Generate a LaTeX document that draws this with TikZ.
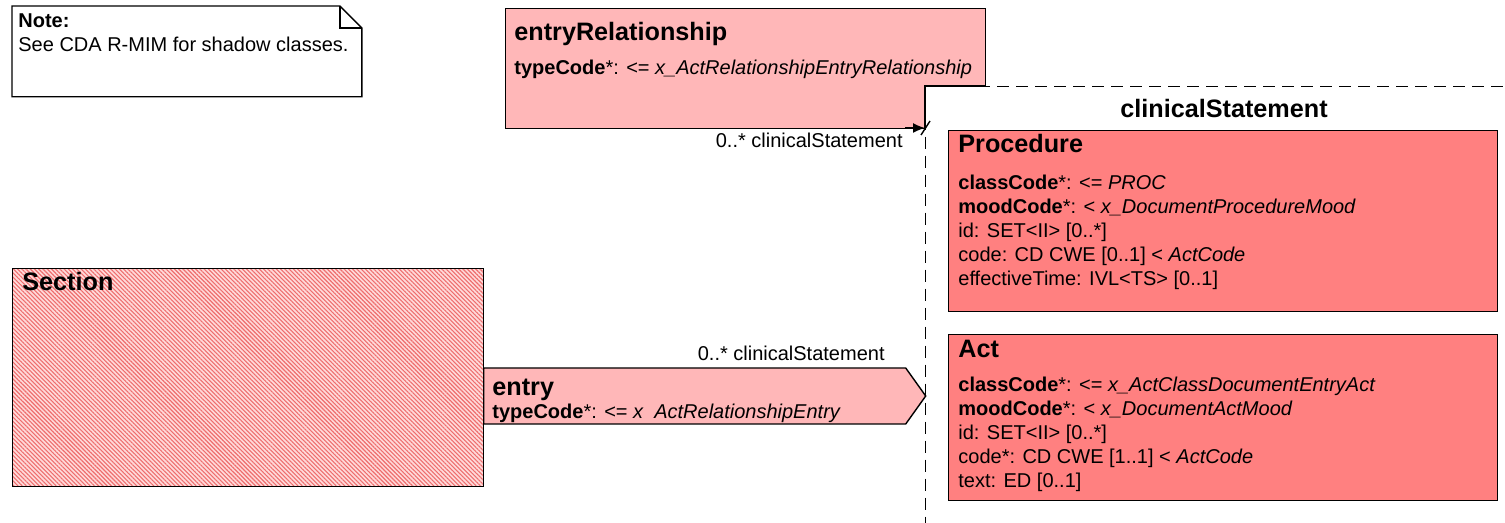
\documentclass[tikz,border=0pt]{standalone}
\usepackage{fontspec}
\setmainfont{Liberation Sans}
\usetikzlibrary{arrows.meta,patterns.meta,shapes.symbols}
\definecolor{relpink}{RGB}{255,183,184}
\definecolor{actred}{RGB}{255,128,128}
\definecolor{hatchred}{RGB}{238,110,110}
\definecolor{hatchbg}{RGB}{255,218,218}
\newcommand{\ttlfont}{\fontsize{12.6}{15}\selectfont\bfseries}
\newcommand{\attfont}{\fontsize{10}{12}\selectfont}
\tikzset{
  classbox/.style={draw, line width=0.7pt, anchor=north west, inner sep=0pt},
  ttl/.style={anchor=base west, inner sep=0pt, font=\ttlfont},
  attrs/.style={anchor=north west, inner sep=0pt, align=left, font=\attfont},
  attline/.style={anchor=base west, inner sep=0pt, font=\attfont},
  rolelbl/.style={anchor=base east, inner sep=0pt, font=\attfont},
  assoc/.style={-{Latex[length=6pt,width=5pt]}, line width=0.7pt},
}
\begin{document}
\begin{tikzpicture}[x=0.5pt,y=-0.5pt]
\useasboundingbox (0,0) rectangle (1505,523);

% note
\node[anchor=north west, inner sep=0pt, minimum width=174.5pt, minimum height=45pt] (note) at (12,6) {};
\draw[line width=0.7pt, fill=white] (note.north west) -- ([xshift=-11pt]note.north east) -- ([yshift=-11pt]note.north east) -- (note.south east) -- (note.south west) -- cycle;
\draw[line width=0.7pt] ([xshift=-11pt]note.north east) |- ([yshift=-11pt]note.north east);
\node[attrs] (notetxt) at (18,13) {\textbf{Note:}\\See CDA R-MIM for shadow classes.};

% entryRelationship
\node[classbox, fill=relpink, minimum width=240pt, minimum height=60pt] (er) at (505,8) {};
\node[ttl] (ertitle) at (514,41) {entryRelationship};
\node[attline] (erattr) at (514,75) {\textbf{typeCode}*: <= \textit{x\_ActRelationshipEntryRelationship}};

% clinicalStatement choice
\node[classbox, fill=white, dashed, dash pattern=on 6pt off 3.5pt, minimum width=300pt, minimum height=230pt] (cs) at (925,86) {};
\draw[line width=0.7pt] (cs.north west |- er.south) -- (cs.north west) -- (cs.north west -| er.east);
\node[font=\ttlfont, anchor=base, inner sep=0pt] (cstitle) at (1224,118) {clinicalStatement};

% Procedure
\node[classbox, fill=actred, minimum width=274.5pt, minimum height=90.5pt] (proc) at (948,130) {};
\node[ttl] (proctitle) at (958,153) {Procedure};
\node[attrs] (procattr) at (958,175) {\textbf{classCode}*: <= \textit{PROC}\\
\textbf{moodCode}*: < \textit{x\_DocumentProcedureMood}\\
id: SET<II> [0..*]\\
code: CD CWE [0..1] < \textit{ActCode}\\
effectiveTime: IVL<TS> [0..1]};

% Act
\node[classbox, fill=actred, minimum width=274.5pt, minimum height=83pt] (act) at (948,334) {};
\node[ttl] (acttitle) at (958,358) {Act};
\node[attrs] (actattr) at (958,377) {\textbf{classCode}*: <= \textit{x\_ActClassDocumentEntryAct}\\
\textbf{moodCode}*: < \textit{x\_DocumentActMood}\\
id: SET<II> [0..*]\\
code*: CD CWE [1..1] < \textit{ActCode}\\
text: ED [0..1]};

% Section
\node[classbox, preaction={fill=hatchbg}, pattern={Lines[angle=-45,distance=1.5pt,line width=0.55pt]}, pattern color=hatchred, minimum width=235.5pt, minimum height=109pt] (sec) at (12,268) {};
\node[ttl] (sectitle) at (22,291) {Section};

% entry
\node[draw, line width=0.7pt, fill=relpink, signal, signal to=east, signal pointer angle=109, inner sep=0pt, minimum width=221pt, minimum height=28pt, anchor=west] (entry) at (483,396) {};
\node[ttl] (entrytitle) at (492,396) {entry};
\node[attline] (entryattr) at (492,419) {\textbf{typeCode}*: <= \textit{x\ \ ActRelationshipEntry}};
\node[rolelbl] (entrylbl) at (885,361) {0..* clinicalStatement};

% entryRelationship -> clinicalStatement
\coordinate (erfoot) at (905,128);
\coordinate (cstip) at (erfoot -| cs.west);
\draw[assoc] (erfoot) -- (cstip);
\draw[line width=0.7pt] ([shift={(-4,7)}]cstip) -- ([shift={(5,-7)}]cstip);
\node[rolelbl] (erlbl) at (903,148) {0..* clinicalStatement};
\end{tikzpicture}
\end{document}
